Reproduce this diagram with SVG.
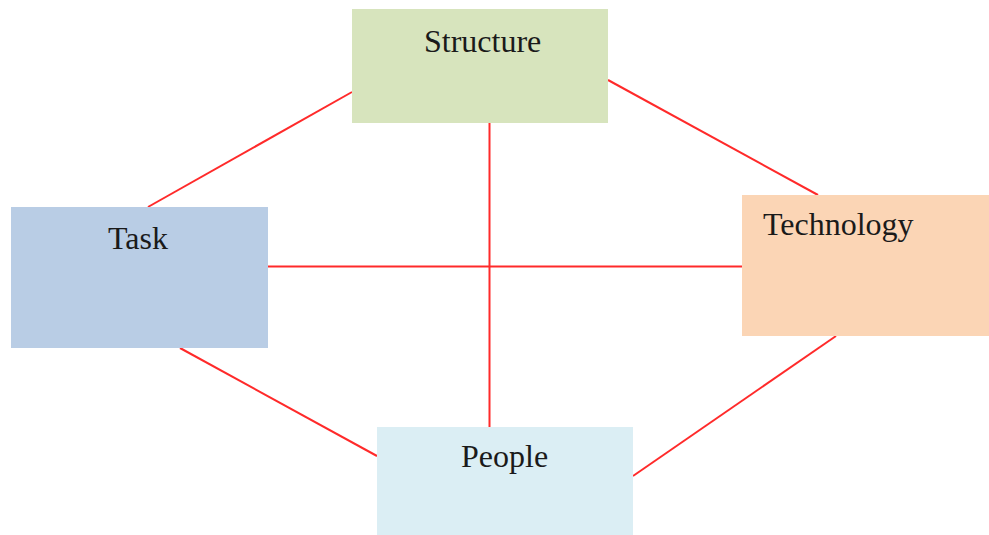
<svg xmlns="http://www.w3.org/2000/svg" width="989" height="535" viewBox="0 0 989 535">
<style>
.lbl{font-family:"Liberation Serif","Times New Roman",serif;font-size:32px;fill:#1a1a1a}
.c{stroke:#ff2a2a;stroke-width:2;fill:none}
</style>
<rect width="989" height="535" fill="#ffffff"/>
<g id="connectors">
<line class="c" x1="352" y1="92" x2="148" y2="207"/>
<line class="c" x1="608" y1="80" x2="818" y2="195"/>
<line class="c" x1="489.5" y1="123" x2="489.5" y2="427"/>
<line class="c" x1="268" y1="266.5" x2="742" y2="266.5"/>
<line class="c" x1="180" y1="348" x2="377" y2="456"/>
<line class="c" x1="836" y1="336" x2="633" y2="476"/>
</g>
<g id="structure">
<rect x="352" y="9" width="256" height="114" fill="#d7e4bd"/>
<text class="lbl" x="424" y="52">Structure</text>
</g>
<g id="task">
<rect x="11" y="207" width="257" height="141" fill="#b9cde5"/>
<text class="lbl" x="108" y="249">Task</text>
</g>
<g id="technology">
<rect x="742" y="195" width="247" height="141" fill="#fbd5b5"/>
<text class="lbl" x="763" y="235">Technology</text>
</g>
<g id="people">
<rect x="377" y="427" width="256" height="108" fill="#dbeef4"/>
<text class="lbl" x="461" y="467">People</text>
</g>
</svg>
